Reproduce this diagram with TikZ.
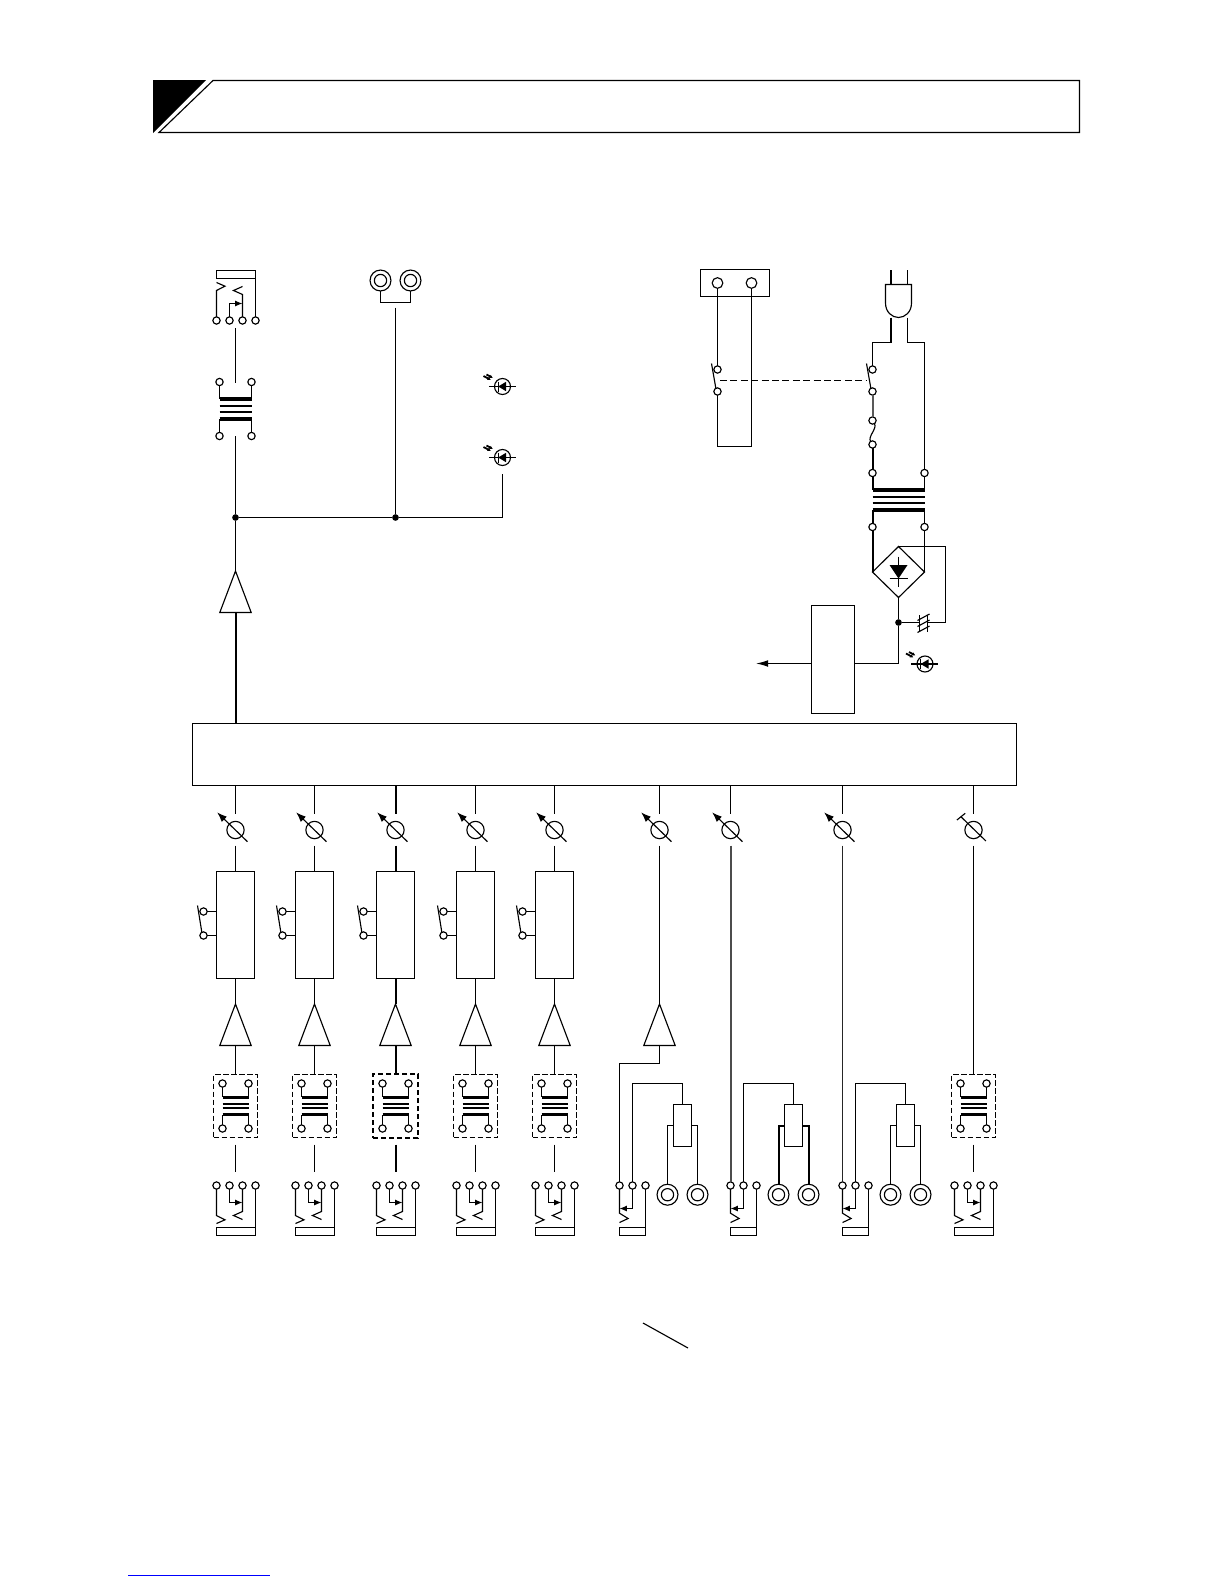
\documentclass[tikz,border=0pt]{standalone}
\usetikzlibrary{arrows.meta,calc}
\tikzset{
  lw/.style={line width=#1*0.75pt},
  sz/.style 2 args={minimum width=#1*0.75pt,minimum height=#2*0.75pt},
  term/.style={circle,draw,fill=white,inner sep=0pt,outer sep=0pt,minimum size=5.5pt,line width=0.85pt},
  blk/.style={rectangle,draw,inner sep=0pt,outer sep=0pt,line width=0.85pt},
  dotn/.style={circle,fill=black,inner sep=0pt,outer sep=0pt,minimum size=5pt},
  dashbox/.style={blk,dash pattern=on 3.9pt off 2.1pt},
  tip/.style={-{Latex[length=5.5pt,width=4.5pt]}},
  pics/jackfour/.style={code={
    \node[term] (-a) at (-19,0) {};
    \node[term] (-b) at (-6,0) {};
    \node[term] (-c) at (7,0) {};
    \node[term] (-d) at (20,0) {};
    \draw (-a) -- (-19,30) -- (-10.5,34.3) -- (-19,38);
    \draw (-c) -- (7,26) -- (-2,30) -- (7,34);
    \draw[tip] (-b) |- (7,17);
    \draw (-d) -- (20,50) -- (-19,50) -- (-19,42) -- (20,42);
  }},
  pics/jackthree/.style={code={
    \node[term] (-a) at (0,0) {};
    \node[term] (-b) at (13,0) {};
    \node[term] (-c) at (26,0) {};
    \draw (-a) -- (0,27.7) -- (8.6,33) -- (0,37);
    \draw[tip] (-b) |- (0,23);
    \draw (-c) -- (26,50) -- (0,50) -- (0,42) -- (26,42);
  }},
  pics/xfmr/.style 2 args={code={
    \node[term] (-tl) at (-#1,-#2) {};
    \node[term] (-tr) at (#1,-#2) {};
    \node[term] (-bl) at (-#1,#2) {};
    \node[term] (-br) at (#1,#2) {};
    \draw (-tl) -- (-#1,-0.38*#2);
    \draw (-tr) -- (#1,-0.38*#2);
    \draw (-bl) -- (-#1,0.38*#2);
    \draw (-br) -- (#1,0.38*#2);
    \draw[lw=3.6] (-#1,-0.38*#2) -- (#1,-0.38*#2);
    \draw[lw=3.6] (-#1,0.38*#2) -- (#1,0.38*#2);
    \draw[lw=1.8] (-#1,-0.1*#2) -- (#1,-0.1*#2);
    \draw[lw=1.8] (-#1,0.1*#2) -- (#1,0.1*#2);
  }},
  pics/fader/.style={code={
    \node[circle,draw,inner sep=0pt,outer sep=0pt,minimum size=13pt,line width=0.85pt] (-o) at (0,0) {};
    \coordinate (-up) at (0,-16.5);
    \coordinate (-down) at (0,15.5);
    \draw[{Latex[length=7.5pt,width=5.5pt]}-] (-18.4,-17.7) -- (12,11.7);
  }},
  pics/faderT/.style={code={
    \node[circle,draw,inner sep=0pt,outer sep=0pt,minimum size=13pt,line width=0.85pt] (-o) at (0,0) {};
    \coordinate (-up) at (0,-16.5);
    \coordinate (-down) at (0,15.5);
    \draw (-12.6,-13.3) -- (12.4,11);
    \draw (-16.6,-10) -- (-8.3,-16.7);
  }},
  pics/amp/.style={code={
    \coordinate (-in) at (0,0);
    \coordinate (-out) at (0,41.5);
    \draw (0,0) -- (15.7,41.5) -- (-15.7,41.5) -- cycle;
  }},
  pics/switch/.style={code={
    \node[term] (-a) at (0,0) {};
    \node[term] (-b) at (0,#1) {};
    \draw (-6,-6) -- (-1.7,#1-3.5);
  }},
  pics/rca/.style={code={
    \node[circle,draw,inner sep=0pt,outer sep=0pt,minimum size=15.7pt,line width=0.85pt] (-o) at (0,0) {};
    \node[circle,draw,inner sep=0pt,outer sep=0pt,minimum size=9.2pt,line width=0.85pt] (-i) at (0,0) {};
  }},
  pics/led/.style={code={
    \node[circle,draw,inner sep=0pt,outer sep=0pt,minimum size=12pt,line width=0.85pt] (-o) at (0,0) {};
    \draw (-13.7,0) -- (13,0);
    \fill (-4.3,0) -- (3.5,-4.7) -- (3.5,4.7) -- cycle;
    \draw (-4.3,-5) -- (-4.3,5);
    \draw[lw=1.8,-{Latex[length=2.6pt,width=2.6pt]}] (-19,-10.5) -- (-11.5,-6.5);
    \draw[lw=1.8,-{Latex[length=2.6pt,width=2.6pt]}] (-16,-12) -- (-9.5,-8.5);
  }},
}
\begin{document}
\begin{tikzpicture}[x=0.75pt,y=-0.75pt,line width=0.85pt,line join=miter]
\useasboundingbox (0,0) rectangle (1225,1585);
\fill[white] (0,0) rectangle (1225,1585);

% header
\fill[black] (153,80) -- (206,80) -- (153,133) -- cycle;
\draw (213,80.5) -- (1079.5,80.5) -- (1079.5,132.5) -- (159,132.5) -- cycle;

% main mixer block
\node[blk,sz={824}{62}] (main) at (604.5,754.5) {};

% output stage, top left
\pic[yscale=-1] (Jo) at (235.5,320.5) {jackfour};
\coordinate (Jow) at (235.5,328);
\pic (Tx) at (235.5,409) {xfmr={16}{27}};
\coordinate (Txa) at (235.5,382.5);
\coordinate (Txb) at (235.5,436);
\draw (Jow) -- (Txa);
\node[dotn] (j1) at (235.5,517.5) {};
\node[dotn] (j2) at (395.5,517.5) {};
\draw (Txb) -- (j1);
\pic (Ao) at (235.5,571) {amp};
\draw (j1) -- (Ao-in);
\draw[lw=2] ($(Ao-out)+(.5,0)$) -- ($(Ao-out |- main.north)+(.5,0)$);

\pic (Ra) at (380.5,280.5) {rca};
\pic (Rb) at (410.5,280.5) {rca};
\coordinate (Ru) at (395.5,302.5);
\coordinate (Rw) at (395.5,307.5);
\draw (Ra-o) -- (Ra-o |- Ru) -- (Rb-o |- Ru) -- (Rb-o);
\draw (Rw) -- (j2);

\pic (La) at (502.5,386.5) {led};
\pic (Lb) at (502.5,457.5) {led};
\coordinate (Lw) at (502.5,473.5);
\draw (j1) -- (j2) -| (Lw);

% remote switch, top right
\node[blk,sz={69}{27}] (Pw) at (735,283) {};
\node[term,minimum size=8pt] (Pa) at (717.5,283) {};
\node[term,minimum size=8pt] (Pb) at (751.5,283) {};
\pic (Sa) at (717.5,369.5) {switch=22};
\coordinate (Pc) at (751.5,446.5);
\draw (Pa) -- (Sa-a);
\draw (Pb) -- (Pc) -| (Sa-b);

% mains input
\coordinate (Pl) at (891,270);
\coordinate (Pr) at (907.5,270);
\coordinate (Pl2) at (891,342.5);
\coordinate (Pr2) at (907.5,342.5);
\draw (885.5,284.5) -- (911.5,284.5) -- (911.5,303) .. controls (911.5,312) and (905,317.5) .. (898.5,317.5) .. controls (892,317.5) and (885.5,312) .. (885.5,303) -- cycle;
\draw[lw=2] (Pl) -- (891,284.5);
\draw (Pr) -- (907.5,284.5);
\pic (Sb) at (872.5,369.5) {switch=22};
\draw[dash pattern=on 5.2pt off 2.6pt,lw=1.1] (720,380.5) -- (866.7,380.5);
\draw[lw=2] (891,317.5) -- (Pl2);
\draw (Pl2) -- (Pl2 -| Sb-a) -- (Sb-a);
\node[term] (Fa) at (872.5,420.5) {};
\node[term] (Fb) at (872.5,444.5) {};
\draw[black!65,lw=2] ($(Sb-b.south)+(.5,0)$) -- ($(Fa.north)+(.5,0)$);
\draw (Fa) .. controls +(5,8) and +(-5,-8) .. (Fb);
\pic (Tp) at (898.5,500) {xfmr={26}{27}};
\draw[lw=2] ($(Fb.south)+(.5,0)$) -- ($(Tp-tl.north)+(.5,0)$);
\draw[lw=2] ($(Tp-tl.south)+(.5,0)$) -- (873,490);
\draw[lw=2] ($(Tp-bl.north)+(.5,0)$) -- (873,510);
\draw (907.5,317.5) -- (Pr2) -| (Tp-tr);

% rectifier bridge
\coordinate (DT) at (898.5,546.5);
\coordinate (DB) at (898.5,597.5);
\coordinate (DL) at (872.5,572);
\coordinate (DR) at (924.5,572);
\draw (DT) -- (DR) -- (DB) -- (DL) -- cycle;
\draw[lw=2] ($(Tp-bl.south)+(.5,0)$) -- ($(DL)+(.5,0)$);
\draw (Tp-br) -- (DR);
\fill (889.5,565) -- (907.5,565) -- (898.5,578.5) -- cycle;
\draw (889.5,578.5) -- (908,578.5);
\draw (898.5,556.5) -- (898.5,586.5);

% smoothing capacitor, regulator, power lamp
\node[dotn] (j3) at (898.5,622.5) {};
\coordinate (CapR) at (945.5,622.5);
\coordinate (CapA) at (919.5,622.5);
\coordinate (CapB) at (927.5,622.5);
\draw (DT) -- (DT -| CapR) -- (CapR) -- (CapB);
\draw (j3) -- (CapA);
\draw (919.5,615) -- (919.5,632);
\draw (927.5,615) -- (927.5,632);
\draw (917.5,620.5) -- (929.5,614);
\draw (917.5,626.5) -- (929.5,620);
\draw (917.5,632.5) -- (929.5,626);
\draw (DB) -- (j3);
\node[blk,sz={43}{108}] (Reg) at (833,659.5) {};
\coordinate (RegR) at (898.5,663.5);
\coordinate (RegL) at (756,663.5);
\draw (j3) -- (RegR) -- (RegR -| Reg.east);
\draw[-{Latex[length=9pt,width=5pt]}] (RegR -| Reg.west) -- (RegL);
\pic (Lc) at (925,664) {led};

% five microphone/line channels
\foreach \n/\x/\w/\s/\dw/\dh in {1/235.5/1.15/0/44/63,2/314.5/1.15/0/44/63,3/395.5/2/0.5/45/64,4/475.5/1.15/0/44/63,5/554.5/1.15/0/44/63}{
  \pic (F\n) at (\x,830) {fader};
  \draw[lw=\w] ($(F\n-up |- main.south)+(\s,0)$) -- ($(F\n-up)+(\s,0)$);
  \node[blk,sz={38}{107}] (B\n) at (\x,925) {};
  \draw[lw=\w] ($(F\n-down)+(\s,0)$) -- ($(B\n.north)+(\s,0)$);
  \pic (S\n) at (\x-32,911.5) {switch=24};
  \draw (S\n-a) -- (S\n-a -| B\n.west);
  \draw (S\n-b) -- (S\n-b -| B\n.west);
  \pic (A\n) at (\x,1004) {amp};
  \draw[lw=\w] ($(B\n.south)+(\s,0)$) -- ($(A\n-in)+(\s,0)$);
  \node[dashbox,lw=\w,sz={\dw}{\dh}] (D\n) at (\x,1106) {};
  \draw[lw=\w] ($(A\n-out)+(\s,0)$) -- ($(D\n.north)+(\s,0)$);
  \pic (X\n) at (\x,1106) {xfmr={13}{22.5}};
  \coordinate (Wa\n) at (\x+\s,1144.5);
  \coordinate (Wb\n) at (\x+\s,1171.5);
  \draw[lw=\w] (Wa\n) -- (Wb\n);
  \pic (J\n) at (\x,1185.5) {jackfour};
}

% three stereo channels
\foreach \n/\a/\c in {6/619.5/659.5,7/730.5/730.5,8/842.5/842.5}{
  \pic (F\n) at (\c,830) {fader};
  \draw (F\n-up |- main.south) -- (F\n-up);
  \pic (J\n) at (\a,1185.5) {jackthree};
  \node[blk,sz={18}{42}] (B\n) at (\a+63,1125.5) {};
  \coordinate (C\n) at (\a+13,1083.5);
  \draw (J\n-b) -- (C\n) -| (B\n.north);
  \pic (Rl\n) at (\a+48,1194.7) {rca};
  \pic (Rr\n) at (\a+78,1194.7) {rca};
  \draw (Rl\n-o.north) |- (B\n.west);
  \draw (Rr\n-o.north) |- (B\n.east);
}
\draw[lw=2] ($(Rl7-o.north)+(.5,0)$) |- ($(B7.west)+(0,.5)$);
\draw[lw=2] ($(Rr7-o.north)+(.5,0)$) |- ($(B7.east)+(0,.5)$);
\pic (A6) at (659.5,1004) {amp};
\coordinate (K6) at (659.5,1063.5);
\draw (F6-down) -- (A6-in);
\draw (A6-out) -- (K6) -| (J6-a);
\draw[black!70,lw=2] ($(F7-down)+(.5,0)$) -- ($(J7-a.north)+(.5,0)$);
\draw[black!85] (F8-down) -- (J8-a);

% ninth channel
\pic (F9) at (973.5,830) {faderT};
\draw (F9-up |- main.south) -- (F9-up);
\node[dashbox,sz={44}{63}] (D9) at (973.5,1106) {};
\draw (F9-down) -- (D9.north);
\pic (X9) at (973.5,1106) {xfmr={13}{22.5}};
\coordinate (Wa9) at (973.5,1144.5);
\coordinate (Wb9) at (973.5,1171.5);
\draw (Wa9) -- (Wb9);
\pic (J9) at (973.5,1185.5) {jackfour};

% loose marks at the foot of the page
\coordinate (Ma) at (643,1323);
\coordinate (Mb) at (688,1348);
\draw (Ma) -- (Mb);
\coordinate (Ba) at (128,1575.5);
\coordinate (Bb) at (270,1575.5);
\draw[blue] (Ba) -- (Bb);
\end{tikzpicture}
\end{document}
